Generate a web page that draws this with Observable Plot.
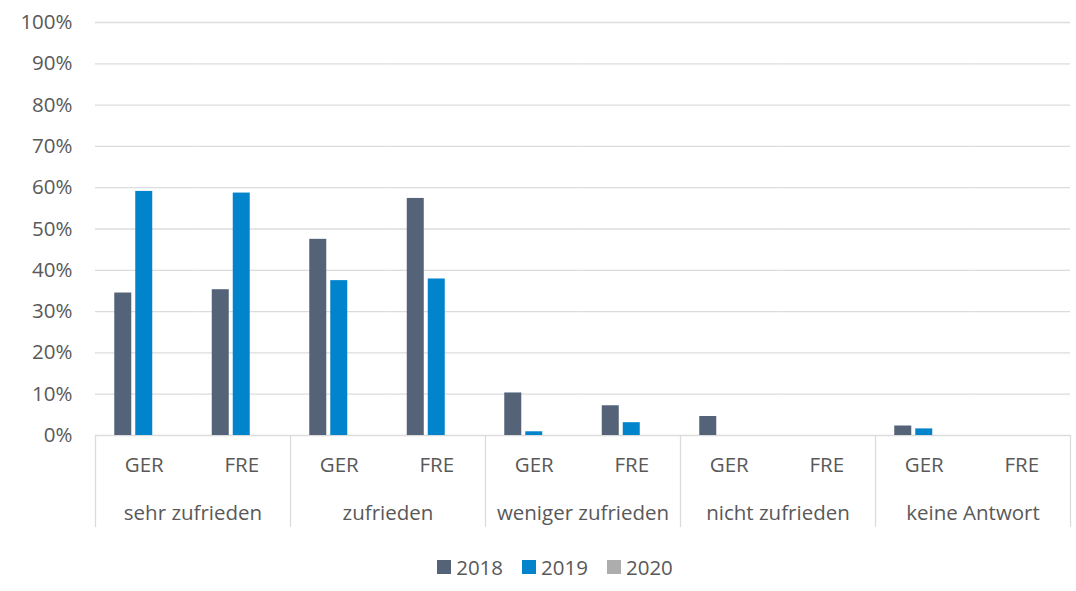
<!DOCTYPE html>
<html><head><meta charset="utf-8">
<script src="https://cdn.jsdelivr.net/npm/d3@7"></script>
<script src="https://cdn.jsdelivr.net/npm/@observablehq/plot@0.6"></script>
<style>
body{margin:0;background:#fff;font-family:"Open Sans",sans-serif;}
#legend{display:flex;justify-content:center;align-items:center;font-size:20.5px;color:#595959;margin-top:13px;padding-left:34px;}
#legend .item{display:flex;align-items:center;margin:0 9.5px;}
#legend .sw{width:14px;height:14px;margin-right:5px;}
</style></head><body><div id="chart"></div><div id="legend"></div>
<script>
const categories = ["sehr zufrieden","zufrieden","weniger zufrieden","nicht zufrieden","keine Antwort"];
const groups = ["GER","FRE"];
const years = ["2018","2019","2020"];
// values per category: [GER, FRE]
const values2018 = [[0.345,0.353],[0.475,0.574],[0.103,0.072],[0.046,null],[0.023,null]];
const values2019 = [[0.591,0.587],[0.375,0.379],[0.009,0.031],[null,null],[0.016,null]];
const values2020 = [[null,null],[null,null],[null,null],[null,null],[null,null]];
const yTicks = [0,0.1,0.2,0.3,0.4,0.5,0.6,0.7,0.8,0.9,1.0];
const colors = ["#546378","#0284cc","#adadad"];

const series = {"2018": values2018, "2019": values2019, "2020": values2020};
const keys = [];
categories.forEach(c => groups.forEach(g => keys.push(c + "|" + g)));
const data = [];
categories.forEach((c, i) => groups.forEach((g, j) => years.forEach(y => {
  const v = series[y][i][j];
  if (v != null) data.push({key: c + "|" + g, cat: c, grp: g, year: y, value: v});
})));
const gerKeys = keys.filter(k => k.endsWith("|GER"));
const lastKey = keys[keys.length - 1];

const W = 1076, ML = 95, MR = 6, MT = 22, MB = 105, H = 540;
const facetW = (W - ML - MR) / keys.length;
const frameH = H - MT - MB;
const txt = "#595959", grid = "#dcdcdc";

const chart = Plot.plot({
  width: W, height: H,
  marginLeft: ML, marginRight: MR, marginTop: MT, marginBottom: MB,
  style: {fontFamily: "'Open Sans', sans-serif", fontSize: "20.5px", color: txt, background: "#fff"},
  fx: {domain: keys, padding: 0, round: false, axis: null},
  x: {domain: years, paddingInner: 0.19, paddingOuter: 0.917, round: false, axis: null},
  y: {domain: [0, 1], axis: null},
  color: {domain: years, range: colors},
  marks: [
    Plot.ruleY(yTicks, {stroke: grid, strokeWidth: 1.3}),
    Plot.barY(data, {fx: "key", x: "year", y: "value", fill: "year"}),
    // y tick labels, only in first facet
    Plot.text(yTicks, {fx: () => keys[0], y: d => d, text: d3.format(".0%"), frameAnchor: "left", textAnchor: "end", dx: -23, fill: txt}),
    // subgroup labels
    Plot.text(keys, {fx: d => d, text: d => d.split("|")[1], frameAnchor: "bottom", dy: 36, fill: txt}),
    // category labels, centred between GER and FRE
    Plot.text(gerKeys, {fx: d => d, text: d => d.split("|")[0], frameAnchor: "bottom", dx: facetW / 2, dy: 84, fill: txt}),
    // category separators
    Plot.ruleX(gerKeys, {fx: d => d, x: null, dx: -facetW / 2, insetTop: frameH, insetBottom: -92, stroke: grid, strokeWidth: 1.3}),
    Plot.ruleX([lastKey], {fx: d => d, x: null, dx: facetW / 2, insetTop: frameH, insetBottom: -92, stroke: grid, strokeWidth: 1.3})
  ]
});
document.getElementById("chart").appendChild(chart);

const legend = document.getElementById("legend");
years.forEach((y, i) => {
  const item = document.createElement("div");
  item.className = "item";
  item.innerHTML = `<span class="sw" style="background:${colors[i]}"></span><span>${y}</span>`;
  legend.appendChild(item);
});
</script>
</body></html>
